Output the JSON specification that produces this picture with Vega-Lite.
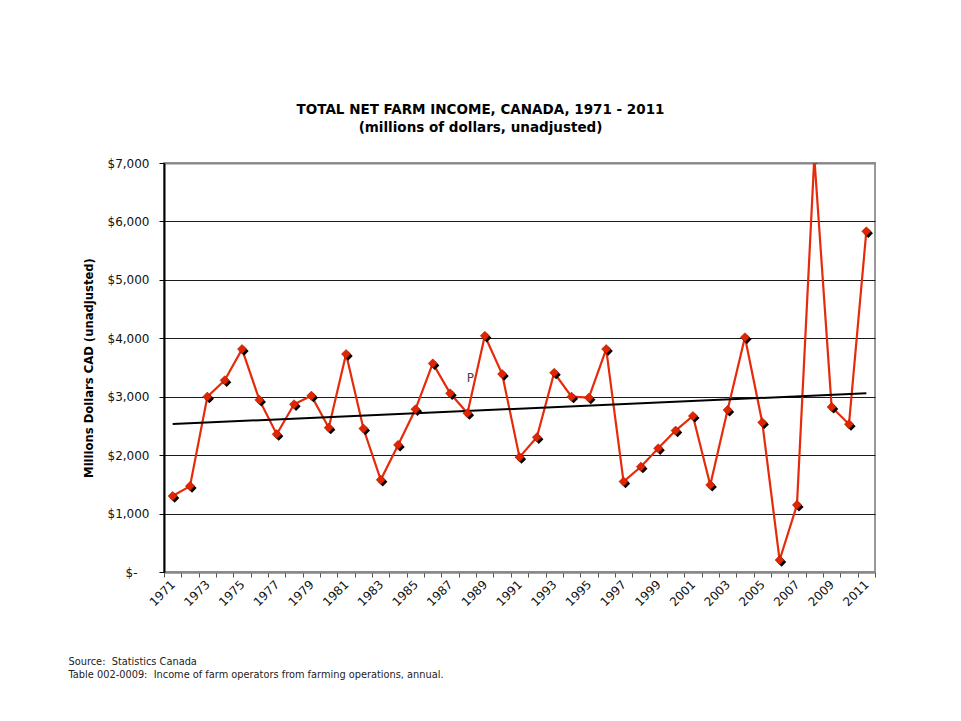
{
  "$schema": "https://vega.github.io/schema/vega-lite/v6.json",
  "autosize": {"type": "none"},
  "width": 711,
  "height": 409,
  "padding": {"left": 164, "top": 163, "right": 86, "bottom": 149},
  "background": "white",
  "config": {
    "font": "DejaVu Sans",
    "view": {"stroke": "#999999", "strokeWidth": 2},
    "axis": {"labelFont": "DejaVu Sans", "titleFont": "DejaVu Sans", "labelColor": "#111", "titleColor": "#000"}
  },
  "title": {
    "text": ["TOTAL NET FARM INCOME, CANADA, 1971 - 2011", "(millions of dollars, unadjusted)"],
    "font": "DejaVu Sans",
    "fontSize": 13.5,
    "fontWeight": "bold",
    "color": "#000",
    "lineHeight": 18,
    "anchor": "middle",
    "frame": "group",
    "dx": -39,
    "offset": 23
  },
  "datasets": {
    "income": [
      {"year": 1971, "income": 1300},
      {"year": 1972, "income": 1470},
      {"year": 1973, "income": 3000},
      {"year": 1974, "income": 3280},
      {"year": 1975, "income": 3815},
      {"year": 1976, "income": 2945},
      {"year": 1977, "income": 2358},
      {"year": 1978, "income": 2870},
      {"year": 1979, "income": 3017},
      {"year": 1980, "income": 2470},
      {"year": 1981, "income": 3730},
      {"year": 1982, "income": 2455},
      {"year": 1983, "income": 1578},
      {"year": 1984, "income": 2175},
      {"year": 1985, "income": 2785},
      {"year": 1986, "income": 3570},
      {"year": 1987, "income": 3058},
      {"year": 1988, "income": 2718},
      {"year": 1989, "income": 4043},
      {"year": 1990, "income": 3388},
      {"year": 1991, "income": 1965},
      {"year": 1992, "income": 2305},
      {"year": 1993, "income": 3410},
      {"year": 1994, "income": 3000},
      {"year": 1995, "income": 2983},
      {"year": 1996, "income": 3815},
      {"year": 1997, "income": 1548},
      {"year": 1998, "income": 1802},
      {"year": 1999, "income": 2117},
      {"year": 2000, "income": 2420},
      {"year": 2001, "income": 2670},
      {"year": 2002, "income": 1490},
      {"year": 2003, "income": 2773},
      {"year": 2004, "income": 4017},
      {"year": 2005, "income": 2560},
      {"year": 2006, "income": 205},
      {"year": 2007, "income": 1148},
      {"year": 2008, "income": 7100},
      {"year": 2009, "income": 2825},
      {"year": 2010, "income": 2530},
      {"year": 2011, "income": 5830}
    ],
    "trend": [
      {"year": 1971, "trend": 2533},
      {"year": 2011, "trend": 3058}
    ],
    "note": [
      {"year": 1988, "value": 3320, "label": "P"}
    ]
  },
  "encoding": {
    "x": {
      "field": "year",
      "type": "ordinal",
      "scale": {"type": "band", "paddingInner": 0, "paddingOuter": 0},
      "axis": {
        "title": ["Source:\u00a0\u00a0Statistics Canada\u00a0", "Table 002-0009:\u00a0\u00a0Income of farm operators from farming operations, annual."],
        "titleFontSize": 9.8,
        "titleFontWeight": "normal",
        "titleColor": "#222",
        "titleAnchor": "start",
        "titleAlign": "left",
        "titleBaseline": "alphabetic",
        "titleLineHeight": 13,
        "titleX": -96,
        "titleY": 92,
        "tickBand": "extent",
        "labelAngle": -45,
        "labelAlign": "right",
        "labelBaseline": "middle",
        "labelFontSize": 12,
        "labelPadding": 5,
        "labelOverlap": false,
        "labelExpr": "(+datum.value - 1971) % 2 == 0 ? datum.label : ''",
        "domainColor": "#888888",
        "domainWidth": 2,
        "tickColor": "#555555",
        "tickSize": 5,
        "grid": false
      }
    }
  },
  "layer": [
    {
      "data": {"name": "income"},
      "mark": {"type": "line", "color": "#E62A0A", "strokeWidth": 2.2, "clip": true},
      "encoding": {
        "y": {
          "field": "income",
          "type": "quantitative",
          "scale": {"domain": [0, 7000], "nice": false},
          "axis": {
            "title": "Millions Dollars CAD (unadjusted)",
            "titleFontSize": 11.6,
            "titleFontWeight": "bold",
            "titlePadding": 13,
            "values": [0, 1000, 2000, 3000, 4000, 5000, 6000, 7000],
            "labelExpr": "datum.value == 0 ? '$-\u2002\u2002\u200b' : '$' + format(datum.value, ',')",
            "labelFontSize": 12,
            "labelPadding": 10,
            "tickSize": 5,
            "tickColor": "#000",
            "domainColor": "#000",
            "domainWidth": 2,
            "grid": true,
            "gridColor": {"condition": {"test": "datum.value == 0 || datum.value == 7000", "value": "#888888"}, "value": "#1a1a1a"},
            "gridWidth": {"condition": {"test": "datum.value == 0 || datum.value == 7000", "value": 2}, "value": 1}
          }
        }
      }
    },
    {
      "data": {"name": "trend"},
      "mark": {"type": "line", "color": "#000", "strokeWidth": 2},
      "encoding": {
        "y": {"field": "trend", "type": "quantitative"}
      }
    },
    {
      "data": {"name": "income"},
      "mark": {"type": "point", "shape": "diamond", "filled": true, "color": "#000", "opacity": 1, "size": 85, "xOffset": 2, "yOffset": 2, "clip": true},
      "encoding": {
        "y": {"field": "income", "type": "quantitative"}
      }
    },
    {
      "data": {"name": "income"},
      "mark": {"type": "point", "shape": "diamond", "filled": true, "fill": "#E32400", "stroke": "#9a1a00", "strokeWidth": 0.5, "opacity": 1, "size": 85, "clip": true},
      "encoding": {
        "y": {"field": "income", "type": "quantitative"}
      }
    },
    {
      "data": {"name": "note"},
      "mark": {"type": "text", "fontSize": 12, "color": "#444", "font": "DejaVu Sans", "dx": 3},
      "encoding": {
        "y": {"field": "value", "type": "quantitative"},
        "text": {"field": "label"}
      }
    }
  ]
}
